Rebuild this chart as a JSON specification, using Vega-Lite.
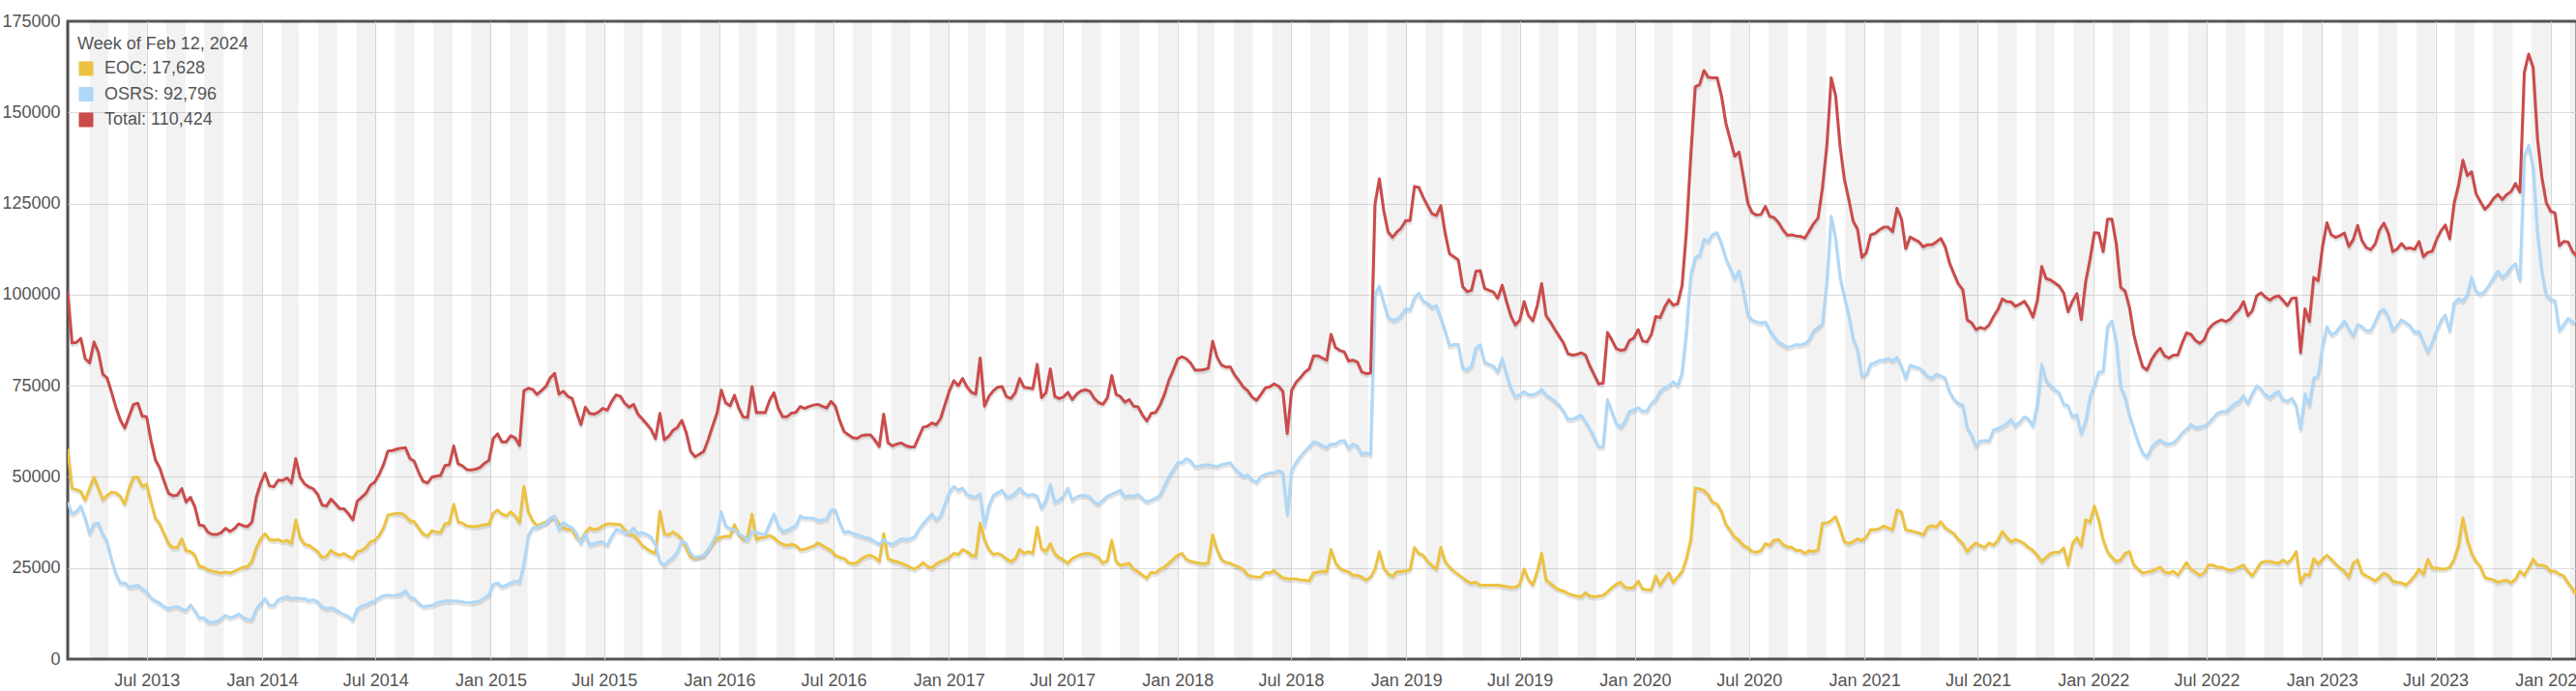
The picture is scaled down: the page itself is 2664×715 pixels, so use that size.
{
"$schema":"https://vega.github.io/schema/vega-lite/v6.json",
"width":2595,"height":660,
"autosize":{"type":"none"},
"padding":{"left":70,"top":22,"right":0,"bottom":33},
"background":"white",
"config":{
"font":"Liberation Sans",
"view":{"stroke":"#545454","strokeWidth":3},
"axis":{"labelFont":"Liberation Sans","labelFontSize":18,"labelColor":"#545454","domain":false,"ticks":false,"tickSize":0,"gridColor":"#dcdcdc","gridWidth":1,"title":null}
},
"datasets":{
"bands":[
{"d":"2013-02-01","e2":"2013-03-01"},{"d":"2013-04-01","e2":"2013-05-01"},{"d":"2013-06-01","e2":"2013-07-01"},{"d":"2013-08-01","e2":"2013-09-01"},{"d":"2013-10-01","e2":"2013-11-01"},{"d":"2013-12-01","e2":"2014-01-01"},
{"d":"2014-02-01","e2":"2014-03-01"},{"d":"2014-04-01","e2":"2014-05-01"},{"d":"2014-06-01","e2":"2014-07-01"},{"d":"2014-08-01","e2":"2014-09-01"},{"d":"2014-10-01","e2":"2014-11-01"},{"d":"2014-12-01","e2":"2015-01-01"},
{"d":"2015-02-01","e2":"2015-03-01"},{"d":"2015-04-01","e2":"2015-05-01"},{"d":"2015-06-01","e2":"2015-07-01"},{"d":"2015-08-01","e2":"2015-09-01"},{"d":"2015-10-01","e2":"2015-11-01"},{"d":"2015-12-01","e2":"2016-01-01"},
{"d":"2016-02-01","e2":"2016-03-01"},{"d":"2016-04-01","e2":"2016-05-01"},{"d":"2016-06-01","e2":"2016-07-01"},{"d":"2016-08-01","e2":"2016-09-01"},{"d":"2016-10-01","e2":"2016-11-01"},{"d":"2016-12-01","e2":"2017-01-01"},
{"d":"2017-02-01","e2":"2017-03-01"},{"d":"2017-04-01","e2":"2017-05-01"},{"d":"2017-06-01","e2":"2017-07-01"},{"d":"2017-08-01","e2":"2017-09-01"},{"d":"2017-10-01","e2":"2017-11-01"},{"d":"2017-12-01","e2":"2018-01-01"},
{"d":"2018-02-01","e2":"2018-03-01"},{"d":"2018-04-01","e2":"2018-05-01"},{"d":"2018-06-01","e2":"2018-07-01"},{"d":"2018-08-01","e2":"2018-09-01"},{"d":"2018-10-01","e2":"2018-11-01"},{"d":"2018-12-01","e2":"2019-01-01"},
{"d":"2019-02-01","e2":"2019-03-01"},{"d":"2019-04-01","e2":"2019-05-01"},{"d":"2019-06-01","e2":"2019-07-01"},{"d":"2019-08-01","e2":"2019-09-01"},{"d":"2019-10-01","e2":"2019-11-01"},{"d":"2019-12-01","e2":"2020-01-01"},
{"d":"2020-02-01","e2":"2020-03-01"},{"d":"2020-04-01","e2":"2020-05-01"},{"d":"2020-06-01","e2":"2020-07-01"},{"d":"2020-08-01","e2":"2020-09-01"},{"d":"2020-10-01","e2":"2020-11-01"},{"d":"2020-12-01","e2":"2021-01-01"},
{"d":"2021-02-01","e2":"2021-03-01"},{"d":"2021-04-01","e2":"2021-05-01"},{"d":"2021-06-01","e2":"2021-07-01"},{"d":"2021-08-01","e2":"2021-09-01"},{"d":"2021-10-01","e2":"2021-11-01"},{"d":"2021-12-01","e2":"2022-01-01"},
{"d":"2022-02-01","e2":"2022-03-01"},{"d":"2022-04-01","e2":"2022-05-01"},{"d":"2022-06-01","e2":"2022-07-01"},{"d":"2022-08-01","e2":"2022-09-01"},{"d":"2022-10-01","e2":"2022-11-01"},{"d":"2022-12-01","e2":"2023-01-01"},
{"d":"2023-02-01","e2":"2023-03-01"},{"d":"2023-04-01","e2":"2023-05-01"},{"d":"2023-06-01","e2":"2023-07-01"},{"d":"2023-08-01","e2":"2023-09-01"},{"d":"2023-10-01","e2":"2023-11-01"},{"d":"2023-12-01","e2":"2024-01-01"},
{"d":"2024-02-01","e2":"2024-03-01"}
],
"series":[
{"d":"2013-02-25","EOC":57700,"OSRS":43100,"Total":100800},
{"d":"2013-03-04","EOC":46900,"OSRS":39800,"Total":86700},
{"d":"2013-03-11","EOC":46500,"OSRS":40400,"Total":86900},
{"d":"2013-03-18","EOC":46000,"OSRS":42000,"Total":88000},
{"d":"2013-03-25","EOC":43600,"OSRS":38800,"Total":82400},
{"d":"2013-04-01","EOC":46900,"OSRS":34400,"Total":81300},
{"d":"2013-04-08","EOC":49900,"OSRS":37100,"Total":87000},
{"d":"2013-04-15","EOC":46900,"OSRS":37300,"Total":84200},
{"d":"2013-04-22","EOC":43800,"OSRS":34400,"Total":78200},
{"d":"2013-04-29","EOC":44900,"OSRS":32200,"Total":77100},
{"d":"2013-05-06","EOC":45800,"OSRS":27400,"Total":73200},
{"d":"2013-05-13","EOC":45600,"OSRS":23500,"Total":69100},
{"d":"2013-05-20","EOC":44700,"OSRS":20900,"Total":65600},
{"d":"2013-05-27","EOC":42500,"OSRS":20900,"Total":63400},
{"d":"2013-06-03","EOC":46900,"OSRS":19800,"Total":66700},
{"d":"2013-06-10","EOC":49900,"OSRS":20000,"Total":69900},
{"d":"2013-06-17","EOC":49900,"OSRS":20300,"Total":70200},
{"d":"2013-06-24","EOC":47400,"OSRS":19300,"Total":66700},
{"d":"2013-07-01","EOC":48000,"OSRS":18500,"Total":66500},
{"d":"2013-07-08","EOC":43100,"OSRS":16800,"Total":59900},
{"d":"2013-07-15","EOC":38700,"OSRS":16000,"Total":54700},
{"d":"2013-07-22","EOC":37100,"OSRS":15300,"Total":52400},
{"d":"2013-07-29","EOC":34400,"OSRS":14400,"Total":48800},
{"d":"2013-08-05","EOC":31700,"OSRS":13800,"Total":45500},
{"d":"2013-08-12","EOC":30600,"OSRS":14200,"Total":44800},
{"d":"2013-08-19","EOC":30600,"OSRS":14400,"Total":45000},
{"d":"2013-08-26","EOC":33000,"OSRS":13800,"Total":46800},
{"d":"2013-09-02","EOC":29800,"OSRS":13300,"Total":43100},
{"d":"2013-09-09","EOC":29500,"OSRS":14900,"Total":44400},
{"d":"2013-09-16","EOC":28500,"OSRS":13300,"Total":41800},
{"d":"2013-09-23","EOC":25500,"OSRS":11300,"Total":36800},
{"d":"2013-09-30","EOC":25200,"OSRS":11400,"Total":36600},
{"d":"2013-10-07","EOC":24500,"OSRS":10300,"Total":34800},
{"d":"2013-10-14","EOC":24100,"OSRS":10100,"Total":34200},
{"d":"2013-10-21","EOC":23900,"OSRS":10300,"Total":34200},
{"d":"2013-10-28","EOC":23600,"OSRS":11100,"Total":34700},
{"d":"2013-11-04","EOC":23900,"OSRS":12000,"Total":35900},
{"d":"2013-11-11","EOC":23600,"OSRS":11400,"Total":35000},
{"d":"2013-11-18","EOC":24100,"OSRS":11700,"Total":35800},
{"d":"2013-11-25","EOC":24700,"OSRS":12400,"Total":37100},
{"d":"2013-12-02","EOC":25200,"OSRS":11400,"Total":36600},
{"d":"2013-12-09","EOC":25400,"OSRS":10900,"Total":36300},
{"d":"2013-12-16","EOC":26800,"OSRS":10800,"Total":37600},
{"d":"2013-12-23","EOC":30600,"OSRS":13800,"Total":44400},
{"d":"2013-12-30","EOC":33000,"OSRS":15300,"Total":48300},
{"d":"2014-01-06","EOC":34400,"OSRS":16600,"Total":51000},
{"d":"2014-01-13","EOC":32800,"OSRS":14700,"Total":47500},
{"d":"2014-01-20","EOC":32600,"OSRS":14700,"Total":47300},
{"d":"2014-01-27","EOC":32800,"OSRS":16300,"Total":49100},
{"d":"2014-02-03","EOC":32200,"OSRS":16800,"Total":49000},
{"d":"2014-02-10","EOC":32600,"OSRS":17100,"Total":49700},
{"d":"2014-02-17","EOC":31700,"OSRS":16600,"Total":48300},
{"d":"2014-02-24","EOC":38200,"OSRS":16800,"Total":55000},
{"d":"2014-03-03","EOC":33300,"OSRS":16600,"Total":49900},
{"d":"2014-03-10","EOC":31500,"OSRS":16600,"Total":48100},
{"d":"2014-03-17","EOC":31200,"OSRS":16000,"Total":47200},
{"d":"2014-03-24","EOC":30400,"OSRS":16300,"Total":46700},
{"d":"2014-03-31","EOC":29500,"OSRS":15700,"Total":45200},
{"d":"2014-04-07","EOC":27900,"OSRS":14400,"Total":42300},
{"d":"2014-04-14","EOC":28200,"OSRS":13800,"Total":42000},
{"d":"2014-04-21","EOC":29800,"OSRS":14100,"Total":43900},
{"d":"2014-04-28","EOC":29000,"OSRS":13700,"Total":42700},
{"d":"2014-05-05","EOC":28500,"OSRS":12800,"Total":41300},
{"d":"2014-05-12","EOC":29000,"OSRS":12200,"Total":41200},
{"d":"2014-05-19","EOC":28200,"OSRS":11700,"Total":39900},
{"d":"2014-05-26","EOC":27600,"OSRS":10600,"Total":38200},
{"d":"2014-06-02","EOC":29500,"OSRS":13800,"Total":43300},
{"d":"2014-06-09","EOC":29800,"OSRS":14600,"Total":44400},
{"d":"2014-06-16","EOC":30600,"OSRS":14900,"Total":45500},
{"d":"2014-06-23","EOC":32200,"OSRS":15500,"Total":47700},
{"d":"2014-06-30","EOC":32600,"OSRS":16000,"Total":48600},
{"d":"2014-07-07","EOC":33900,"OSRS":16800,"Total":50700},
{"d":"2014-07-14","EOC":36000,"OSRS":17400,"Total":53400},
{"d":"2014-07-21","EOC":39500,"OSRS":17600,"Total":57100},
{"d":"2014-07-28","EOC":39800,"OSRS":17400,"Total":57200},
{"d":"2014-08-04","EOC":40000,"OSRS":17600,"Total":57600},
{"d":"2014-08-11","EOC":40000,"OSRS":17900,"Total":57900},
{"d":"2014-08-18","EOC":39300,"OSRS":18700,"Total":58000},
{"d":"2014-08-25","EOC":38000,"OSRS":17100,"Total":55100},
{"d":"2014-09-01","EOC":37700,"OSRS":16600,"Total":54300},
{"d":"2014-09-08","EOC":36000,"OSRS":15300,"Total":51300},
{"d":"2014-09-15","EOC":34400,"OSRS":14400,"Total":48800},
{"d":"2014-09-22","EOC":33700,"OSRS":14600,"Total":48300},
{"d":"2014-09-29","EOC":35200,"OSRS":14700,"Total":49900},
{"d":"2014-10-06","EOC":34900,"OSRS":15300,"Total":50200},
{"d":"2014-10-13","EOC":34700,"OSRS":15700,"Total":50400},
{"d":"2014-10-20","EOC":37100,"OSRS":16000,"Total":53100},
{"d":"2014-10-27","EOC":37300,"OSRS":16000,"Total":53300},
{"d":"2014-11-03","EOC":42500,"OSRS":16000,"Total":58500},
{"d":"2014-11-10","EOC":37700,"OSRS":15900,"Total":53600},
{"d":"2014-11-17","EOC":37300,"OSRS":15700,"Total":53000},
{"d":"2014-11-24","EOC":36500,"OSRS":15500,"Total":52000},
{"d":"2014-12-01","EOC":36400,"OSRS":15500,"Total":51900},
{"d":"2014-12-08","EOC":36400,"OSRS":15700,"Total":52100},
{"d":"2014-12-15","EOC":36600,"OSRS":16000,"Total":52600},
{"d":"2014-12-22","EOC":36900,"OSRS":16800,"Total":53700},
{"d":"2014-12-29","EOC":36900,"OSRS":17600,"Total":54500},
{"d":"2015-01-05","EOC":40000,"OSRS":20500,"Total":60500},
{"d":"2015-01-12","EOC":40900,"OSRS":20900,"Total":61800},
{"d":"2015-01-19","EOC":39800,"OSRS":19800,"Total":59600},
{"d":"2015-01-26","EOC":39300,"OSRS":20300,"Total":59600},
{"d":"2015-02-02","EOC":40400,"OSRS":20900,"Total":61300},
{"d":"2015-02-09","EOC":39300,"OSRS":21400,"Total":60700},
{"d":"2015-02-16","EOC":37500,"OSRS":21100,"Total":58600},
{"d":"2015-02-23","EOC":47400,"OSRS":26300,"Total":73700},
{"d":"2015-03-02","EOC":40400,"OSRS":33900,"Total":74300},
{"d":"2015-03-09","EOC":38000,"OSRS":36000,"Total":74000},
{"d":"2015-03-16","EOC":36600,"OSRS":36000,"Total":72600},
{"d":"2015-03-23","EOC":37100,"OSRS":36600,"Total":73700},
{"d":"2015-03-30","EOC":37600,"OSRS":37200,"Total":74800},
{"d":"2015-04-06","EOC":38500,"OSRS":38700,"Total":77200},
{"d":"2015-04-13","EOC":39100,"OSRS":39300,"Total":78400},
{"d":"2015-04-20","EOC":37100,"OSRS":35600,"Total":72700},
{"d":"2015-04-27","EOC":36000,"OSRS":37500,"Total":73500},
{"d":"2015-05-04","EOC":35500,"OSRS":36600,"Total":72100},
{"d":"2015-05-11","EOC":35500,"OSRS":36000,"Total":71500},
{"d":"2015-05-18","EOC":33300,"OSRS":34500,"Total":67800},
{"d":"2015-05-25","EOC":32600,"OSRS":31700,"Total":64300},
{"d":"2015-06-01","EOC":34700,"OSRS":34400,"Total":69100},
{"d":"2015-06-08","EOC":36000,"OSRS":31400,"Total":67400},
{"d":"2015-06-15","EOC":35500,"OSRS":31700,"Total":67200},
{"d":"2015-06-22","EOC":35800,"OSRS":32000,"Total":67800},
{"d":"2015-06-29","EOC":36600,"OSRS":32200,"Total":68800},
{"d":"2015-07-06","EOC":37100,"OSRS":31200,"Total":68300},
{"d":"2015-07-13","EOC":37100,"OSRS":33600,"Total":70700},
{"d":"2015-07-20","EOC":37000,"OSRS":35500,"Total":72500},
{"d":"2015-07-27","EOC":36900,"OSRS":35200,"Total":72100},
{"d":"2015-08-03","EOC":35500,"OSRS":34700,"Total":70200},
{"d":"2015-08-10","EOC":34400,"OSRS":34700,"Total":69100},
{"d":"2015-08-17","EOC":33900,"OSRS":36000,"Total":69900},
{"d":"2015-08-24","EOC":32800,"OSRS":34400,"Total":67200},
{"d":"2015-08-31","EOC":31200,"OSRS":34700,"Total":65900},
{"d":"2015-09-07","EOC":30300,"OSRS":34200,"Total":64500},
{"d":"2015-09-14","EOC":29500,"OSRS":33500,"Total":63000},
{"d":"2015-09-21","EOC":29000,"OSRS":31500,"Total":60500},
{"d":"2015-09-28","EOC":40600,"OSRS":26800,"Total":67400},
{"d":"2015-10-05","EOC":34400,"OSRS":25800,"Total":60200},
{"d":"2015-10-12","EOC":34100,"OSRS":27000,"Total":61100},
{"d":"2015-10-19","EOC":34900,"OSRS":27900,"Total":62800},
{"d":"2015-10-26","EOC":34100,"OSRS":29500,"Total":63600},
{"d":"2015-11-02","EOC":33000,"OSRS":32500,"Total":65500},
{"d":"2015-11-09","EOC":30500,"OSRS":31700,"Total":62200},
{"d":"2015-11-16","EOC":28000,"OSRS":29000,"Total":57000},
{"d":"2015-11-23","EOC":27600,"OSRS":27900,"Total":55500},
{"d":"2015-11-30","EOC":28000,"OSRS":28200,"Total":56200},
{"d":"2015-12-07","EOC":28500,"OSRS":28500,"Total":57000},
{"d":"2015-12-14","EOC":30100,"OSRS":30100,"Total":60200},
{"d":"2015-12-21","EOC":31700,"OSRS":32200,"Total":63900},
{"d":"2015-12-28","EOC":33000,"OSRS":34400,"Total":67400},
{"d":"2016-01-04","EOC":33400,"OSRS":40400,"Total":73800},
{"d":"2016-01-11","EOC":33700,"OSRS":36600,"Total":70300},
{"d":"2016-01-18","EOC":33700,"OSRS":35800,"Total":69500},
{"d":"2016-01-25","EOC":36900,"OSRS":35500,"Total":72400},
{"d":"2016-02-01","EOC":34400,"OSRS":34400,"Total":68800},
{"d":"2016-02-08","EOC":32800,"OSRS":33600,"Total":66400},
{"d":"2016-02-15","EOC":33700,"OSRS":32600,"Total":66300},
{"d":"2016-02-22","EOC":39800,"OSRS":35000,"Total":74800},
{"d":"2016-02-29","EOC":32800,"OSRS":34800,"Total":67600},
{"d":"2016-03-07","EOC":33300,"OSRS":34400,"Total":67700},
{"d":"2016-03-14","EOC":33500,"OSRS":34100,"Total":67600},
{"d":"2016-03-21","EOC":33900,"OSRS":37100,"Total":71000},
{"d":"2016-03-28","EOC":33300,"OSRS":39800,"Total":73100},
{"d":"2016-04-04","EOC":32200,"OSRS":36600,"Total":68800},
{"d":"2016-04-11","EOC":31500,"OSRS":35000,"Total":66500},
{"d":"2016-04-18","EOC":31200,"OSRS":35300,"Total":66500},
{"d":"2016-04-25","EOC":31500,"OSRS":36000,"Total":67500},
{"d":"2016-05-02","EOC":31200,"OSRS":36500,"Total":67700},
{"d":"2016-05-09","EOC":30000,"OSRS":39300,"Total":69300},
{"d":"2016-05-16","EOC":30100,"OSRS":38700,"Total":68800},
{"d":"2016-05-23","EOC":30600,"OSRS":38700,"Total":69300},
{"d":"2016-05-30","EOC":31000,"OSRS":38700,"Total":69700},
{"d":"2016-06-06","EOC":31900,"OSRS":38000,"Total":69900},
{"d":"2016-06-13","EOC":31200,"OSRS":38200,"Total":69400},
{"d":"2016-06-20","EOC":30500,"OSRS":38400,"Total":68900},
{"d":"2016-06-27","EOC":29800,"OSRS":40900,"Total":70700},
{"d":"2016-07-04","EOC":28500,"OSRS":40900,"Total":69400},
{"d":"2016-07-11","EOC":27900,"OSRS":37500,"Total":65400},
{"d":"2016-07-18","EOC":27600,"OSRS":34800,"Total":62400},
{"d":"2016-07-25","EOC":26500,"OSRS":35000,"Total":61500},
{"d":"2016-08-01","EOC":26200,"OSRS":34500,"Total":60700},
{"d":"2016-08-08","EOC":26500,"OSRS":34100,"Total":60600},
{"d":"2016-08-15","EOC":27600,"OSRS":33700,"Total":61300},
{"d":"2016-08-22","EOC":28200,"OSRS":33300,"Total":61500},
{"d":"2016-08-29","EOC":28500,"OSRS":33000,"Total":61500},
{"d":"2016-09-05","EOC":27900,"OSRS":32200,"Total":60100},
{"d":"2016-09-12","EOC":26800,"OSRS":31500,"Total":58300},
{"d":"2016-09-19","EOC":34400,"OSRS":32800,"Total":67200},
{"d":"2016-09-26","EOC":27600,"OSRS":31800,"Total":59400},
{"d":"2016-10-03","EOC":27000,"OSRS":31500,"Total":58500},
{"d":"2016-10-10","EOC":26800,"OSRS":32200,"Total":59000},
{"d":"2016-10-17","EOC":26300,"OSRS":33000,"Total":59300},
{"d":"2016-10-24","EOC":25800,"OSRS":32800,"Total":58600},
{"d":"2016-10-31","EOC":25200,"OSRS":33000,"Total":58200},
{"d":"2016-11-07","EOC":24700,"OSRS":33500,"Total":58200},
{"d":"2016-11-14","EOC":25400,"OSRS":35500,"Total":60900},
{"d":"2016-11-21","EOC":26500,"OSRS":37100,"Total":63600},
{"d":"2016-11-28","EOC":25400,"OSRS":38500,"Total":63900},
{"d":"2016-12-05","EOC":25000,"OSRS":39800,"Total":64800},
{"d":"2016-12-12","EOC":26100,"OSRS":38200,"Total":64300},
{"d":"2016-12-19","EOC":26800,"OSRS":39300,"Total":66100},
{"d":"2016-12-26","EOC":27200,"OSRS":42700,"Total":69900},
{"d":"2017-01-02","EOC":27900,"OSRS":45800,"Total":73700},
{"d":"2017-01-09","EOC":29000,"OSRS":47400,"Total":76400},
{"d":"2017-01-16","EOC":28700,"OSRS":46300,"Total":75000},
{"d":"2017-01-23","EOC":30100,"OSRS":46900,"Total":77000},
{"d":"2017-01-30","EOC":29500,"OSRS":45200,"Total":74700},
{"d":"2017-02-06","EOC":28500,"OSRS":44700,"Total":73200},
{"d":"2017-02-13","EOC":28200,"OSRS":44500,"Total":72700},
{"d":"2017-02-20","EOC":37300,"OSRS":45300,"Total":82600},
{"d":"2017-02-27","EOC":32800,"OSRS":36600,"Total":69400},
{"d":"2017-03-06","EOC":30100,"OSRS":42000,"Total":72100},
{"d":"2017-03-13","EOC":28700,"OSRS":44900,"Total":73600},
{"d":"2017-03-20","EOC":29000,"OSRS":45600,"Total":74600},
{"d":"2017-03-27","EOC":28500,"OSRS":46300,"Total":74800},
{"d":"2017-04-03","EOC":27500,"OSRS":44500,"Total":72000},
{"d":"2017-04-10","EOC":26800,"OSRS":44700,"Total":71500},
{"d":"2017-04-17","EOC":27500,"OSRS":45600,"Total":73100},
{"d":"2017-04-24","EOC":30100,"OSRS":46900,"Total":77000},
{"d":"2017-05-01","EOC":29000,"OSRS":45600,"Total":74600},
{"d":"2017-05-08","EOC":29500,"OSRS":44900,"Total":74400},
{"d":"2017-05-15","EOC":29000,"OSRS":45200,"Total":74200},
{"d":"2017-05-22","EOC":36200,"OSRS":44700,"Total":80900},
{"d":"2017-05-29","EOC":30300,"OSRS":41400,"Total":71700},
{"d":"2017-06-05","EOC":29500,"OSRS":43600,"Total":73100},
{"d":"2017-06-12","EOC":31700,"OSRS":47900,"Total":79600},
{"d":"2017-06-19","EOC":29000,"OSRS":43100,"Total":72100},
{"d":"2017-06-26","EOC":27900,"OSRS":43600,"Total":71500},
{"d":"2017-07-03","EOC":27200,"OSRS":44700,"Total":71900},
{"d":"2017-07-10","EOC":26300,"OSRS":46900,"Total":73200},
{"d":"2017-07-17","EOC":27600,"OSRS":43600,"Total":71200},
{"d":"2017-07-24","EOC":28200,"OSRS":44500,"Total":72700},
{"d":"2017-07-31","EOC":28700,"OSRS":44900,"Total":73600},
{"d":"2017-08-07","EOC":29000,"OSRS":44900,"Total":73900},
{"d":"2017-08-14","EOC":29000,"OSRS":44500,"Total":73500},
{"d":"2017-08-21","EOC":28500,"OSRS":43100,"Total":71600},
{"d":"2017-08-28","EOC":27900,"OSRS":42500,"Total":70400},
{"d":"2017-09-04","EOC":26300,"OSRS":43600,"Total":69900},
{"d":"2017-09-11","EOC":27000,"OSRS":44700,"Total":71700},
{"d":"2017-09-18","EOC":32600,"OSRS":45200,"Total":77800},
{"d":"2017-09-25","EOC":26800,"OSRS":45800,"Total":72600},
{"d":"2017-10-02","EOC":25700,"OSRS":46300,"Total":72000},
{"d":"2017-10-09","EOC":26000,"OSRS":44500,"Total":70500},
{"d":"2017-10-16","EOC":26300,"OSRS":44900,"Total":71200},
{"d":"2017-10-23","EOC":24700,"OSRS":44700,"Total":69400},
{"d":"2017-10-30","EOC":24000,"OSRS":45200,"Total":69200},
{"d":"2017-11-06","EOC":23000,"OSRS":44000,"Total":67000},
{"d":"2017-11-13","EOC":22200,"OSRS":43100,"Total":65300},
{"d":"2017-11-20","EOC":23800,"OSRS":43600,"Total":67400},
{"d":"2017-11-27","EOC":23600,"OSRS":44100,"Total":67700},
{"d":"2017-12-04","EOC":24700,"OSRS":45000,"Total":69700},
{"d":"2017-12-11","EOC":25200,"OSRS":47400,"Total":72600},
{"d":"2017-12-18","EOC":26300,"OSRS":50100,"Total":76400},
{"d":"2017-12-25","EOC":27400,"OSRS":51800,"Total":79200},
{"d":"2018-01-01","EOC":28500,"OSRS":53800,"Total":82300},
{"d":"2018-01-08","EOC":29000,"OSRS":54000,"Total":83000},
{"d":"2018-01-15","EOC":27400,"OSRS":55000,"Total":82400},
{"d":"2018-01-22","EOC":26800,"OSRS":54400,"Total":81200},
{"d":"2018-01-29","EOC":26500,"OSRS":52800,"Total":79300},
{"d":"2018-02-05","EOC":26300,"OSRS":53000,"Total":79300},
{"d":"2018-02-12","EOC":26100,"OSRS":53300,"Total":79400},
{"d":"2018-02-19","EOC":26500,"OSRS":53300,"Total":79800},
{"d":"2018-02-26","EOC":34100,"OSRS":53100,"Total":87200},
{"d":"2018-03-05","EOC":30100,"OSRS":52800,"Total":82900},
{"d":"2018-03-12","EOC":27400,"OSRS":53300,"Total":80700},
{"d":"2018-03-19","EOC":26500,"OSRS":53600,"Total":80100},
{"d":"2018-03-26","EOC":26300,"OSRS":53900,"Total":80200},
{"d":"2018-04-02","EOC":25700,"OSRS":52300,"Total":78000},
{"d":"2018-04-09","EOC":25200,"OSRS":51200,"Total":76400},
{"d":"2018-04-16","EOC":24600,"OSRS":50100,"Total":74700},
{"d":"2018-04-23","EOC":23000,"OSRS":50600,"Total":73600},
{"d":"2018-04-30","EOC":22700,"OSRS":49200,"Total":71900},
{"d":"2018-05-07","EOC":22500,"OSRS":48500,"Total":71000},
{"d":"2018-05-14","EOC":22500,"OSRS":50100,"Total":72600},
{"d":"2018-05-21","EOC":23800,"OSRS":50600,"Total":74400},
{"d":"2018-05-28","EOC":23600,"OSRS":51100,"Total":74700},
{"d":"2018-06-04","EOC":24300,"OSRS":51200,"Total":75500},
{"d":"2018-06-11","EOC":23200,"OSRS":51700,"Total":74900},
{"d":"2018-06-18","EOC":22300,"OSRS":51200,"Total":73500},
{"d":"2018-06-25","EOC":22100,"OSRS":39800,"Total":61900},
{"d":"2018-07-02","EOC":22000,"OSRS":51700,"Total":73700},
{"d":"2018-07-09","EOC":22000,"OSRS":53900,"Total":75900},
{"d":"2018-07-16","EOC":21700,"OSRS":55500,"Total":77200},
{"d":"2018-07-23","EOC":21700,"OSRS":57000,"Total":78700},
{"d":"2018-07-30","EOC":21400,"OSRS":58200,"Total":79600},
{"d":"2018-08-06","EOC":23600,"OSRS":59600,"Total":83200},
{"d":"2018-08-13","EOC":23900,"OSRS":59300,"Total":83200},
{"d":"2018-08-20","EOC":24100,"OSRS":58500,"Total":82600},
{"d":"2018-08-27","EOC":24000,"OSRS":58000,"Total":82000},
{"d":"2018-09-03","EOC":30100,"OSRS":59000,"Total":89100},
{"d":"2018-09-10","EOC":26500,"OSRS":59000,"Total":85500},
{"d":"2018-09-17","EOC":24900,"OSRS":59800,"Total":84700},
{"d":"2018-09-24","EOC":24300,"OSRS":60000,"Total":84300},
{"d":"2018-10-01","EOC":23900,"OSRS":57900,"Total":81800},
{"d":"2018-10-08","EOC":23000,"OSRS":59000,"Total":82000},
{"d":"2018-10-15","EOC":23000,"OSRS":58500,"Total":81500},
{"d":"2018-10-22","EOC":22500,"OSRS":56300,"Total":78800},
{"d":"2018-10-29","EOC":21700,"OSRS":56600,"Total":78300},
{"d":"2018-11-05","EOC":22500,"OSRS":56000,"Total":78500},
{"d":"2018-11-12","EOC":24700,"OSRS":100100,"Total":124800},
{"d":"2018-11-19","EOC":29500,"OSRS":102300,"Total":131800},
{"d":"2018-11-26","EOC":25100,"OSRS":98000,"Total":123100},
{"d":"2018-12-03","EOC":23400,"OSRS":93800,"Total":117200},
{"d":"2018-12-10","EOC":22700,"OSRS":93000,"Total":115700},
{"d":"2018-12-17","EOC":24000,"OSRS":93200,"Total":117200},
{"d":"2018-12-24","EOC":24000,"OSRS":94300,"Total":118300},
{"d":"2018-12-31","EOC":24200,"OSRS":96100,"Total":120300},
{"d":"2019-01-07","EOC":24500,"OSRS":95800,"Total":120300},
{"d":"2019-01-14","EOC":30600,"OSRS":99100,"Total":129700},
{"d":"2019-01-21","EOC":29000,"OSRS":100400,"Total":129400},
{"d":"2019-01-28","EOC":28500,"OSRS":98200,"Total":126700},
{"d":"2019-02-04","EOC":26800,"OSRS":97600,"Total":124400},
{"d":"2019-02-11","EOC":25700,"OSRS":96500,"Total":122200},
{"d":"2019-02-18","EOC":24700,"OSRS":97000,"Total":121700},
{"d":"2019-02-25","EOC":30600,"OSRS":93800,"Total":124400},
{"d":"2019-03-04","EOC":26800,"OSRS":90100,"Total":116900},
{"d":"2019-03-11","EOC":25200,"OSRS":86000,"Total":111200},
{"d":"2019-03-18","EOC":24100,"OSRS":86300,"Total":110400},
{"d":"2019-03-25","EOC":23200,"OSRS":86300,"Total":109500},
{"d":"2019-04-01","EOC":22300,"OSRS":79900,"Total":102200},
{"d":"2019-04-08","EOC":21400,"OSRS":79400,"Total":100800},
{"d":"2019-04-15","EOC":20800,"OSRS":80400,"Total":101200},
{"d":"2019-04-22","EOC":21100,"OSRS":85300,"Total":106400},
{"d":"2019-04-29","EOC":20300,"OSRS":86300,"Total":106600},
{"d":"2019-05-06","EOC":20300,"OSRS":81400,"Total":101700},
{"d":"2019-05-13","EOC":20300,"OSRS":80900,"Total":101200},
{"d":"2019-05-20","EOC":20300,"OSRS":80400,"Total":100700},
{"d":"2019-05-27","EOC":20300,"OSRS":78700,"Total":99000},
{"d":"2019-06-03","EOC":20100,"OSRS":82500,"Total":102600},
{"d":"2019-06-10","EOC":19900,"OSRS":78200,"Total":98100},
{"d":"2019-06-17","EOC":19700,"OSRS":74400,"Total":94100},
{"d":"2019-06-24","EOC":19700,"OSRS":72000,"Total":91700},
{"d":"2019-07-01","EOC":20500,"OSRS":72500,"Total":93000},
{"d":"2019-07-08","EOC":24700,"OSRS":73400,"Total":98100},
{"d":"2019-07-15","EOC":21800,"OSRS":72500,"Total":94300},
{"d":"2019-07-22","EOC":20300,"OSRS":72500,"Total":92800},
{"d":"2019-07-29","EOC":24100,"OSRS":73000,"Total":97100},
{"d":"2019-08-05","EOC":29000,"OSRS":74000,"Total":103000},
{"d":"2019-08-12","EOC":21800,"OSRS":72500,"Total":94300},
{"d":"2019-08-19","EOC":20800,"OSRS":71700,"Total":92500},
{"d":"2019-08-26","EOC":19700,"OSRS":70800,"Total":90500},
{"d":"2019-09-02","EOC":19000,"OSRS":69600,"Total":88600},
{"d":"2019-09-09","EOC":18700,"OSRS":68000,"Total":86700},
{"d":"2019-09-16","EOC":18000,"OSRS":65800,"Total":83800},
{"d":"2019-09-23","EOC":17600,"OSRS":65800,"Total":83400},
{"d":"2019-09-30","EOC":17300,"OSRS":66300,"Total":83600},
{"d":"2019-10-07","EOC":17100,"OSRS":66900,"Total":84000},
{"d":"2019-10-14","EOC":18200,"OSRS":65200,"Total":83400},
{"d":"2019-10-21","EOC":17300,"OSRS":63100,"Total":80400},
{"d":"2019-10-28","EOC":17100,"OSRS":60900,"Total":78000},
{"d":"2019-11-04","EOC":17300,"OSRS":58200,"Total":75500},
{"d":"2019-11-11","EOC":17500,"OSRS":58200,"Total":75700},
{"d":"2019-11-18","EOC":18400,"OSRS":71200,"Total":89600},
{"d":"2019-11-25","EOC":19600,"OSRS":68000,"Total":87600},
{"d":"2019-12-02","EOC":20500,"OSRS":64700,"Total":85200},
{"d":"2019-12-09","EOC":21100,"OSRS":63600,"Total":84700},
{"d":"2019-12-16","EOC":19700,"OSRS":65200,"Total":84900},
{"d":"2019-12-23","EOC":19500,"OSRS":67900,"Total":87400},
{"d":"2019-12-30","EOC":19700,"OSRS":68400,"Total":88100},
{"d":"2020-01-06","EOC":21400,"OSRS":69000,"Total":90400},
{"d":"2020-01-13","EOC":19300,"OSRS":68000,"Total":87300},
{"d":"2020-01-20","EOC":19000,"OSRS":68000,"Total":87000},
{"d":"2020-01-27","EOC":19000,"OSRS":70100,"Total":89100},
{"d":"2020-02-03","EOC":22800,"OSRS":71200,"Total":94000},
{"d":"2020-02-10","EOC":20300,"OSRS":73400,"Total":93700},
{"d":"2020-02-17","EOC":22100,"OSRS":74400,"Total":96500},
{"d":"2020-02-24","EOC":23600,"OSRS":75000,"Total":98600},
{"d":"2020-03-02","EOC":21000,"OSRS":76100,"Total":97100},
{"d":"2020-03-09","EOC":22500,"OSRS":75000,"Total":97500},
{"d":"2020-03-16","EOC":24000,"OSRS":78500,"Total":102500},
{"d":"2020-03-23","EOC":27500,"OSRS":90000,"Total":117500},
{"d":"2020-03-30","EOC":32800,"OSRS":105500,"Total":138300},
{"d":"2020-04-06","EOC":46900,"OSRS":110100,"Total":157000},
{"d":"2020-04-13","EOC":46700,"OSRS":110900,"Total":157600},
{"d":"2020-04-20","EOC":46300,"OSRS":115200,"Total":161500},
{"d":"2020-04-27","EOC":45000,"OSRS":114600,"Total":159600},
{"d":"2020-05-04","EOC":43000,"OSRS":116500,"Total":159500},
{"d":"2020-05-11","EOC":42500,"OSRS":117000,"Total":159500},
{"d":"2020-05-18","EOC":40500,"OSRS":114000,"Total":154500},
{"d":"2020-05-25","EOC":37000,"OSRS":110000,"Total":147000},
{"d":"2020-06-01","EOC":35300,"OSRS":107200,"Total":142500},
{"d":"2020-06-08","EOC":33500,"OSRS":104500,"Total":138000},
{"d":"2020-06-15","EOC":32600,"OSRS":106500,"Total":139100},
{"d":"2020-06-22","EOC":31200,"OSRS":101000,"Total":132200},
{"d":"2020-06-29","EOC":30600,"OSRS":94500,"Total":125100},
{"d":"2020-07-06","EOC":29500,"OSRS":93000,"Total":122500},
{"d":"2020-07-13","EOC":29300,"OSRS":92500,"Total":121800},
{"d":"2020-07-20","EOC":29800,"OSRS":92200,"Total":122000},
{"d":"2020-07-27","EOC":31700,"OSRS":92500,"Total":124200},
{"d":"2020-08-03","EOC":31200,"OSRS":90300,"Total":121500},
{"d":"2020-08-10","EOC":32600,"OSRS":88500,"Total":121100},
{"d":"2020-08-17","EOC":32800,"OSRS":87000,"Total":119800},
{"d":"2020-08-24","EOC":31500,"OSRS":86300,"Total":117800},
{"d":"2020-08-31","EOC":30800,"OSRS":85500,"Total":116300},
{"d":"2020-09-07","EOC":30600,"OSRS":85800,"Total":116400},
{"d":"2020-09-14","EOC":29800,"OSRS":86300,"Total":116100},
{"d":"2020-09-21","EOC":29800,"OSRS":86200,"Total":116000},
{"d":"2020-09-28","EOC":29000,"OSRS":86500,"Total":115500},
{"d":"2020-10-05","EOC":29800,"OSRS":87700,"Total":117500},
{"d":"2020-10-12","EOC":29500,"OSRS":90000,"Total":119500},
{"d":"2020-10-19","EOC":30000,"OSRS":91000,"Total":121000},
{"d":"2020-10-26","EOC":37300,"OSRS":92000,"Total":129300},
{"d":"2020-11-02","EOC":37300,"OSRS":103500,"Total":140800},
{"d":"2020-11-09","EOC":38000,"OSRS":121500,"Total":159500},
{"d":"2020-11-16","EOC":39100,"OSRS":115600,"Total":154700},
{"d":"2020-11-23","EOC":36000,"OSRS":105000,"Total":141000},
{"d":"2020-11-30","EOC":32200,"OSRS":99500,"Total":131700},
{"d":"2020-12-07","EOC":31700,"OSRS":94500,"Total":126200},
{"d":"2020-12-14","EOC":32200,"OSRS":88000,"Total":120200},
{"d":"2020-12-21","EOC":33000,"OSRS":85000,"Total":118000},
{"d":"2020-12-28","EOC":32500,"OSRS":77700,"Total":110200},
{"d":"2021-01-04","EOC":33500,"OSRS":78000,"Total":111500},
{"d":"2021-01-11","EOC":35500,"OSRS":80900,"Total":116400},
{"d":"2021-01-18","EOC":35500,"OSRS":81300,"Total":116800},
{"d":"2021-01-25","EOC":35800,"OSRS":82000,"Total":117800},
{"d":"2021-02-01","EOC":36500,"OSRS":82000,"Total":118500},
{"d":"2021-02-08","EOC":36000,"OSRS":82500,"Total":118500},
{"d":"2021-02-15","EOC":35500,"OSRS":81800,"Total":117300},
{"d":"2021-02-22","EOC":40900,"OSRS":82800,"Total":123700},
{"d":"2021-03-01","EOC":40400,"OSRS":80500,"Total":120900},
{"d":"2021-03-08","EOC":35500,"OSRS":77100,"Total":112600},
{"d":"2021-03-15","EOC":35200,"OSRS":80600,"Total":115800},
{"d":"2021-03-22","EOC":34900,"OSRS":80200,"Total":115100},
{"d":"2021-03-29","EOC":34600,"OSRS":79900,"Total":114500},
{"d":"2021-04-05","EOC":34100,"OSRS":79000,"Total":113100},
{"d":"2021-04-12","EOC":36200,"OSRS":77500,"Total":113700},
{"d":"2021-04-19","EOC":36600,"OSRS":77100,"Total":113700},
{"d":"2021-04-26","EOC":36300,"OSRS":78200,"Total":114500},
{"d":"2021-05-03","EOC":37700,"OSRS":77700,"Total":115400},
{"d":"2021-05-10","EOC":36000,"OSRS":77100,"Total":113100},
{"d":"2021-05-17","EOC":35200,"OSRS":73400,"Total":108600},
{"d":"2021-05-24","EOC":34400,"OSRS":71300,"Total":105700},
{"d":"2021-05-31","EOC":32800,"OSRS":70100,"Total":102900},
{"d":"2021-06-07","EOC":31700,"OSRS":69700,"Total":101400},
{"d":"2021-06-14","EOC":29500,"OSRS":63600,"Total":93100},
{"d":"2021-06-21","EOC":30800,"OSRS":61500,"Total":92300},
{"d":"2021-06-28","EOC":31900,"OSRS":58500,"Total":90400},
{"d":"2021-07-05","EOC":31200,"OSRS":59800,"Total":91000},
{"d":"2021-07-12","EOC":30600,"OSRS":60000,"Total":90600},
{"d":"2021-07-19","EOC":31900,"OSRS":59800,"Total":91700},
{"d":"2021-07-26","EOC":31200,"OSRS":62800,"Total":94000},
{"d":"2021-08-02","EOC":32600,"OSRS":63300,"Total":95900},
{"d":"2021-08-09","EOC":35000,"OSRS":63800,"Total":98800},
{"d":"2021-08-16","EOC":33500,"OSRS":64600,"Total":98100},
{"d":"2021-08-23","EOC":32200,"OSRS":65800,"Total":98000},
{"d":"2021-08-30","EOC":32800,"OSRS":64000,"Total":96800},
{"d":"2021-09-06","EOC":32400,"OSRS":65000,"Total":97400},
{"d":"2021-09-13","EOC":31700,"OSRS":66500,"Total":98200},
{"d":"2021-09-20","EOC":30600,"OSRS":65800,"Total":96400},
{"d":"2021-09-27","EOC":29800,"OSRS":64000,"Total":93800},
{"d":"2021-10-04","EOC":28500,"OSRS":70000,"Total":98500},
{"d":"2021-10-11","EOC":26800,"OSRS":80900,"Total":107700},
{"d":"2021-10-18","EOC":27900,"OSRS":76500,"Total":104400},
{"d":"2021-10-25","EOC":29000,"OSRS":75000,"Total":104000},
{"d":"2021-11-01","EOC":29300,"OSRS":73900,"Total":103200},
{"d":"2021-11-08","EOC":29300,"OSRS":73000,"Total":102300},
{"d":"2021-11-15","EOC":30500,"OSRS":70000,"Total":100500},
{"d":"2021-11-22","EOC":25800,"OSRS":69500,"Total":95300},
{"d":"2021-11-29","EOC":31700,"OSRS":66500,"Total":98200},
{"d":"2021-12-06","EOC":33300,"OSRS":67000,"Total":100300},
{"d":"2021-12-13","EOC":31200,"OSRS":62000,"Total":93200},
{"d":"2021-12-20","EOC":38200,"OSRS":65300,"Total":103500},
{"d":"2021-12-27","EOC":37700,"OSRS":72000,"Total":109700},
{"d":"2022-01-03","EOC":42000,"OSRS":75000,"Total":117000},
{"d":"2022-01-10","EOC":38200,"OSRS":78700,"Total":116900},
{"d":"2022-01-17","EOC":32800,"OSRS":79000,"Total":111800},
{"d":"2022-01-24","EOC":29500,"OSRS":91200,"Total":120700},
{"d":"2022-01-31","EOC":27900,"OSRS":92800,"Total":120700},
{"d":"2022-02-07","EOC":26800,"OSRS":87000,"Total":113800},
{"d":"2022-02-14","EOC":27300,"OSRS":74700,"Total":102000},
{"d":"2022-02-21","EOC":29000,"OSRS":72000,"Total":101000},
{"d":"2022-02-28","EOC":29500,"OSRS":67000,"Total":96500},
{"d":"2022-03-07","EOC":25800,"OSRS":63200,"Total":89000},
{"d":"2022-03-14","EOC":24700,"OSRS":59600,"Total":84300},
{"d":"2022-03-21","EOC":23600,"OSRS":56600,"Total":80200},
{"d":"2022-03-28","EOC":23900,"OSRS":55400,"Total":79300},
{"d":"2022-04-04","EOC":24100,"OSRS":58000,"Total":82100},
{"d":"2022-04-11","EOC":24700,"OSRS":59300,"Total":84000},
{"d":"2022-04-18","EOC":25200,"OSRS":60100,"Total":85300},
{"d":"2022-04-25","EOC":23900,"OSRS":59300,"Total":83200},
{"d":"2022-05-02","EOC":23600,"OSRS":59000,"Total":82600},
{"d":"2022-05-09","EOC":24100,"OSRS":59300,"Total":83400},
{"d":"2022-05-16","EOC":23000,"OSRS":60400,"Total":83400},
{"d":"2022-05-23","EOC":24700,"OSRS":62000,"Total":86700},
{"d":"2022-05-30","EOC":26500,"OSRS":63000,"Total":89500},
{"d":"2022-06-06","EOC":24700,"OSRS":64400,"Total":89100},
{"d":"2022-06-13","EOC":23900,"OSRS":63600,"Total":87500},
{"d":"2022-06-20","EOC":23000,"OSRS":63600,"Total":86600},
{"d":"2022-06-27","EOC":23600,"OSRS":64000,"Total":87600},
{"d":"2022-07-04","EOC":25800,"OSRS":64700,"Total":90500},
{"d":"2022-07-11","EOC":25800,"OSRS":66000,"Total":91800},
{"d":"2022-07-18","EOC":25200,"OSRS":67400,"Total":92600},
{"d":"2022-07-25","EOC":25200,"OSRS":67900,"Total":93100},
{"d":"2022-08-01","EOC":24700,"OSRS":67900,"Total":92600},
{"d":"2022-08-08","EOC":24300,"OSRS":69000,"Total":93300},
{"d":"2022-08-15","EOC":24700,"OSRS":70100,"Total":94800},
{"d":"2022-08-22","EOC":25200,"OSRS":70700,"Total":95900},
{"d":"2022-08-29","EOC":25800,"OSRS":72300,"Total":98100},
{"d":"2022-09-05","EOC":24100,"OSRS":70100,"Total":94200},
{"d":"2022-09-12","EOC":22800,"OSRS":72800,"Total":95600},
{"d":"2022-09-19","EOC":24700,"OSRS":75000,"Total":99700},
{"d":"2022-09-26","EOC":26500,"OSRS":74000,"Total":100500},
{"d":"2022-10-03","EOC":26800,"OSRS":72500,"Total":99300},
{"d":"2022-10-10","EOC":26800,"OSRS":71700,"Total":98500},
{"d":"2022-10-17","EOC":26500,"OSRS":72800,"Total":99300},
{"d":"2022-10-24","EOC":26300,"OSRS":73400,"Total":99700},
{"d":"2022-10-31","EOC":27200,"OSRS":71200,"Total":98400},
{"d":"2022-11-07","EOC":26300,"OSRS":70700,"Total":97000},
{"d":"2022-11-14","EOC":27500,"OSRS":71500,"Total":99000},
{"d":"2022-11-21","EOC":29500,"OSRS":69600,"Total":99100},
{"d":"2022-11-28","EOC":20900,"OSRS":63100,"Total":84000},
{"d":"2022-12-05","EOC":23300,"OSRS":72800,"Total":96100},
{"d":"2022-12-12","EOC":23000,"OSRS":69600,"Total":92600},
{"d":"2022-12-19","EOC":27600,"OSRS":77100,"Total":104700},
{"d":"2022-12-26","EOC":26100,"OSRS":77700,"Total":103800},
{"d":"2023-01-02","EOC":27400,"OSRS":85800,"Total":113200},
{"d":"2023-01-09","EOC":28500,"OSRS":91200,"Total":119700},
{"d":"2023-01-16","EOC":27400,"OSRS":89000,"Total":116400},
{"d":"2023-01-23","EOC":26100,"OSRS":89600,"Total":115700},
{"d":"2023-01-30","EOC":25000,"OSRS":91200,"Total":116200},
{"d":"2023-02-06","EOC":24100,"OSRS":92800,"Total":116900},
{"d":"2023-02-13","EOC":22500,"OSRS":90700,"Total":113200},
{"d":"2023-02-20","EOC":26300,"OSRS":88800,"Total":115100},
{"d":"2023-02-27","EOC":27200,"OSRS":91800,"Total":119000},
{"d":"2023-03-06","EOC":23600,"OSRS":91200,"Total":114800},
{"d":"2023-03-13","EOC":22800,"OSRS":90100,"Total":112900},
{"d":"2023-03-20","EOC":22200,"OSRS":90100,"Total":112300},
{"d":"2023-03-27","EOC":21400,"OSRS":92500,"Total":113900},
{"d":"2023-04-03","EOC":22500,"OSRS":95300,"Total":117800},
{"d":"2023-04-10","EOC":23600,"OSRS":96000,"Total":119600},
{"d":"2023-04-17","EOC":23000,"OSRS":93900,"Total":116900},
{"d":"2023-04-24","EOC":21400,"OSRS":90400,"Total":111800},
{"d":"2023-05-01","EOC":21100,"OSRS":91400,"Total":112500},
{"d":"2023-05-08","EOC":20900,"OSRS":93100,"Total":114000},
{"d":"2023-05-15","EOC":20300,"OSRS":92300,"Total":112600},
{"d":"2023-05-22","EOC":21400,"OSRS":91400,"Total":112800},
{"d":"2023-05-29","EOC":22800,"OSRS":89600,"Total":112400},
{"d":"2023-06-05","EOC":24700,"OSRS":89900,"Total":114600},
{"d":"2023-06-12","EOC":23300,"OSRS":87100,"Total":110400},
{"d":"2023-06-19","EOC":27400,"OSRS":84200,"Total":111600},
{"d":"2023-06-26","EOC":25000,"OSRS":86900,"Total":111900},
{"d":"2023-07-03","EOC":25000,"OSRS":90100,"Total":115100},
{"d":"2023-07-10","EOC":24700,"OSRS":92800,"Total":117500},
{"d":"2023-07-17","EOC":24700,"OSRS":94400,"Total":119100},
{"d":"2023-07-24","EOC":25200,"OSRS":90100,"Total":115300},
{"d":"2023-07-31","EOC":27400,"OSRS":97700,"Total":125100},
{"d":"2023-08-07","EOC":31200,"OSRS":98800,"Total":130000},
{"d":"2023-08-14","EOC":38700,"OSRS":98200,"Total":136900},
{"d":"2023-08-21","EOC":32800,"OSRS":99900,"Total":132700},
{"d":"2023-08-28","EOC":29000,"OSRS":104700,"Total":133700},
{"d":"2023-09-04","EOC":26800,"OSRS":100900,"Total":127700},
{"d":"2023-09-11","EOC":25400,"OSRS":100100,"Total":125500},
{"d":"2023-09-18","EOC":22500,"OSRS":100900,"Total":123400},
{"d":"2023-09-25","EOC":22000,"OSRS":102600,"Total":124600},
{"d":"2023-10-02","EOC":21700,"OSRS":104700,"Total":126400},
{"d":"2023-10-09","EOC":21100,"OSRS":106400,"Total":127500},
{"d":"2023-10-16","EOC":21400,"OSRS":104700,"Total":126100},
{"d":"2023-10-23","EOC":21700,"OSRS":105800,"Total":127500},
{"d":"2023-10-30","EOC":20900,"OSRS":107400,"Total":128300},
{"d":"2023-11-06","EOC":22000,"OSRS":108500,"Total":130500},
{"d":"2023-11-13","EOC":24100,"OSRS":104000,"Total":128100},
{"d":"2023-11-20","EOC":23000,"OSRS":138000,"Total":161000},
{"d":"2023-11-27","EOC":25000,"OSRS":141000,"Total":166000},
{"d":"2023-12-04","EOC":27400,"OSRS":135000,"Total":162400},
{"d":"2023-12-11","EOC":25800,"OSRS":117000,"Total":142800},
{"d":"2023-12-18","EOC":25800,"OSRS":106400,"Total":132200},
{"d":"2023-12-25","EOC":25400,"OSRS":99900,"Total":125300},
{"d":"2024-01-01","EOC":24100,"OSRS":98800,"Total":122900},
{"d":"2024-01-08","EOC":24100,"OSRS":98300,"Total":122400},
{"d":"2024-01-15","EOC":23300,"OSRS":90100,"Total":113400},
{"d":"2024-01-22","EOC":22800,"OSRS":91800,"Total":114600},
{"d":"2024-01-29","EOC":20900,"OSRS":93500,"Total":114400},
{"d":"2024-02-05","EOC":19300,"OSRS":92500,"Total":111800},
{"d":"2024-02-12","EOC":17628,"OSRS":92796,"Total":110424}
]
},
"encoding":{
"x":{"field":"d","type":"temporal",
"scale":{"type":"utc","domain":[{"year":2013,"month":"feb","date":25,"utc":true},{"year":2024,"month":"feb","date":12,"utc":true}]},
"axis":{"format":"%b %Y","tickCount":{"interval":"month","step":6},"labelPadding":13,"labelOverlap":false,"labelFlush":false,"gridColor":"#d6d6d6"}}
},
"layer":[
{"data":{"name":"bands"},
"mark":{"type":"rect","fill":"#000000","opacity":0.05,"clip":true},
"encoding":{"x2":{"field":"e2"}}},
{"data":{"name":"series"},
"transform":[{"fold":["EOC","OSRS","Total"],"as":["key","value"]}],
"encoding":{
"y":{"field":"value","type":"quantitative",
"scale":{"domain":[0,175000],"nice":false,"zero":true},
"axis":{"values":[0,25000,50000,75000,100000,125000,150000,175000],"format":"d","labelPadding":8,
"gridOpacity":{"condition":{"test":"datum.value === 0 || datum.value === 175000","value":0},"value":1}}}
},
"layer":[
{"mark":{"type":"line","stroke":"#000000","opacity":0.1,"strokeWidth":3.5,"yOffset":2.5,"xOffset":0.4,"strokeJoin":"round","clip":true},
"encoding":{"detail":{"field":"key"}}},
{"mark":{"type":"line","strokeWidth":3,"strokeJoin":"round","clip":true},
"encoding":{"color":{"field":"key","type":"nominal",
"scale":{"domain":["EOC","OSRS","Total"],"range":["#edc240","#afd8f8","#cb4b4b"]},
"legend":{"orient":"none","legendX":10,"legendY":15,"direction":"vertical","padding":0,
"title":"Week of Feb 12, 2024","titleFont":"Liberation Sans","titleFontSize":18,"titleFontWeight":"normal","titleColor":"#545454","titlePadding":7,"titleLimit":400,
"labelFont":"Liberation Sans","labelFontSize":18,"labelColor":"#545454","labelOffset":10,"labelLimit":400,
"rowPadding":8.5,"symbolType":"square","symbolSize":196,"symbolStrokeWidth":1,"symbolOpacity":1,
"labelExpr":"datum.label == 'EOC' ? 'EOC: 17,628' : datum.label == 'OSRS' ? 'OSRS: 92,796' : 'Total: 110,424'",
"encode":{"symbols":{"update":{"fill":{"scale":"color","field":"value"},"stroke":{"value":"#cccccc"},"strokeWidth":{"value":1},"opacity":{"value":1}}}}}}}}
]}
]
}
